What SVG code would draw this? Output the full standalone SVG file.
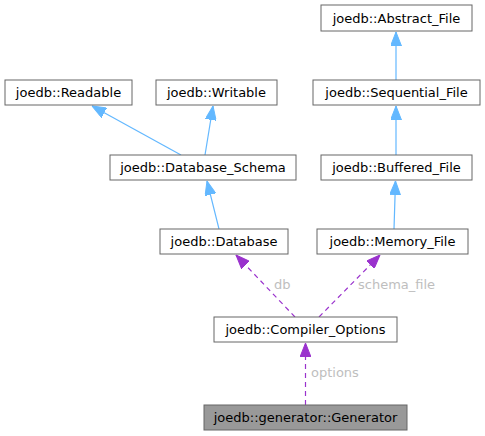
<svg xmlns="http://www.w3.org/2000/svg" width="485" height="436" viewBox="0 0 485 436">
<style>
.box{fill:#ffffff;stroke:#666666;stroke-width:1}
.cur{fill:#999999;stroke:#666666;stroke-width:1}
.t{font-family:"DejaVu Sans",sans-serif;font-size:13px;fill:#000000;text-anchor:middle}
.lbl{font-family:"DejaVu Sans",sans-serif;font-size:13px;fill:#bebebe}
.inh{stroke:#63b8ff;stroke-width:1.2;fill:none;marker-end:url(#ab)}
.use{stroke:#9a32cd;stroke-width:1.2;fill:none;stroke-dasharray:5,4;marker-end:url(#ap)}
</style>
<defs>
<marker id="ab" viewBox="0 0 14 11" refX="14" refY="5.5" markerWidth="14" markerHeight="11" markerUnits="userSpaceOnUse" orient="auto"><path d="M0,0 L14,5.5 L0,11 z" fill="#63b8ff" stroke="#63b8ff" stroke-width="1"/></marker>
<marker id="ap" viewBox="0 0 14 11" refX="14" refY="5.5" markerWidth="14" markerHeight="11" markerUnits="userSpaceOnUse" orient="auto"><path d="M0,0 L14,5.5 L0,11 z" fill="#9a32cd" stroke="#9a32cd" stroke-width="1"/></marker>
</defs>
<rect width="485" height="436" fill="#ffffff"/>
<g id="connectors">
<path class="inh" d="M181,155 L92,106"/>
<path class="inh" d="M205,155 L213,106"/>
<path class="inh" d="M219,229 L207,181"/>
<path class="inh" d="M396,80 L396,32"/>
<path class="inh" d="M396,155 L396,106"/>
<path class="inh" d="M394,229 L395.5,181"/>
<path class="use" d="M295,317 L236,255"/>
<path class="use" d="M319,317 L380,255"/>
<path class="use" d="M305.5,405 L305.5,343"/>
<text class="lbl" x="274" y="288.5">db</text>
<text class="lbl" x="358" y="288.5">schema_file</text>
<text class="lbl" x="311" y="377">options</text>
</g>
<g id="node-abstract-file"><rect class="box" x="321" y="5" width="151" height="26"/><text class="t" x="396.5" y="22.5">joedb::Abstract_File</text></g>
<g id="node-readable"><rect class="box" x="5" y="80" width="127" height="25"/><text class="t" x="68.5" y="97">joedb::Readable</text></g>
<g id="node-writable"><rect class="box" x="156" y="80" width="121" height="25"/><text class="t" x="216.5" y="97">joedb::Writable</text></g>
<g id="node-sequential-file"><rect class="box" x="313" y="80" width="167" height="25"/><text class="t" x="396.5" y="97">joedb::Sequential_File</text></g>
<g id="node-database-schema"><rect class="box" x="110" y="155" width="186" height="25"/><text class="t" x="203" y="172">joedb::Database_Schema</text></g>
<g id="node-buffered-file"><rect class="box" x="321" y="155" width="151" height="25"/><text class="t" x="396.5" y="172">joedb::Buffered_File</text></g>
<g id="node-database"><rect class="box" x="160" y="229" width="128" height="25"/><text class="t" x="224" y="246">joedb::Database</text></g>
<g id="node-memory-file"><rect class="box" x="317" y="229" width="151" height="25"/><text class="t" x="392.5" y="246">joedb::Memory_File</text></g>
<g id="node-compiler-options"><rect class="box" x="214" y="317" width="183" height="25"/><text class="t" x="305.5" y="334">joedb::Compiler_Options</text></g>
<g id="node-generator"><rect class="cur" x="204" y="405" width="203" height="25"/><text class="t" x="305.5" y="422">joedb::generator::Generator</text></g>
</svg>
